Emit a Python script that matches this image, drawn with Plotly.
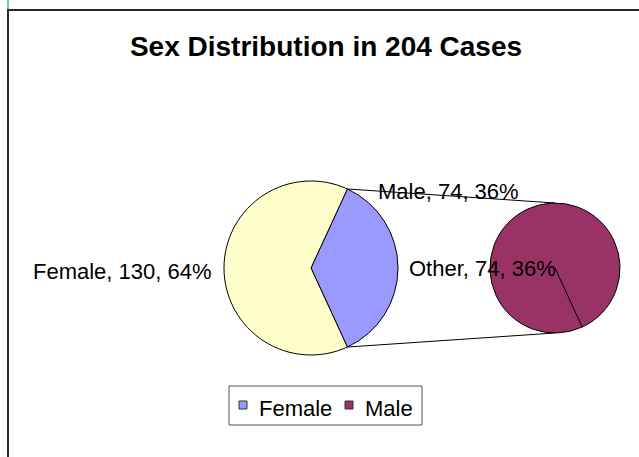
import math
import plotly.graph_objects as go

W, H = 639, 457

title_text = "Sex Distribution in 204 Cases"

# main pie: the "Other" share is split out into the secondary pie
main_labels = ["Other", "Female"]
main_values = [74, 130]
main_colors = ["#9999FF", "#FFFFCC"]

# secondary pie: breakdown of "Other"
sub_labels = ["Male"]
sub_values = [74]
sub_colors = ["#993366"]

# legend entries (series point colours)
legend_labels = ["Female", "Male"]
legend_colors = ["#9999FF", "#993366"]

total = sum(main_values)

# geometry in pixels (origin at top-left)
c1x, c1y, r1 = 311, 268, 87
c2x, c2y, r2 = 555, 268, 65


def px(x):
    return x / W


def py(y):
    return 1 - y / H


def domain(cx, cy, r):
    return dict(x=[px(cx - r), px(cx + r)], y=[py(cy + r), py(cy - r)])


# split-off slice is centred on the right side (3 o'clock)
other_span = 360 * main_values[0] / total
rot1 = 90 - other_span / 2
rot2 = rot1 + other_span

fig = go.Figure()
fig.add_trace(go.Pie(
    labels=main_labels, values=main_values, sort=False, direction="clockwise",
    rotation=rot1, domain=domain(c1x, c1y, r1), textinfo="none", hoverinfo="label+value+percent",
    marker=dict(colors=main_colors, line=dict(color="#000000", width=1)), showlegend=False,
))
fig.add_trace(go.Pie(
    labels=sub_labels, values=sub_values, sort=False, direction="clockwise",
    rotation=rot2, domain=domain(c2x, c2y, r2), textinfo="none", hoverinfo="label+value+percent",
    marker=dict(colors=sub_colors, line=dict(color="#000000", width=1)), showlegend=False,
))


def edge_point(cx, cy, r, ang):
    a = math.radians(ang)
    return cx + r * math.sin(a), cy - r * math.cos(a)


def line(x0, y0, x1, y1, color="#000000", width=1):
    return dict(type="line", xref="paper", yref="paper",
                x0=px(x0), y0=py(y0), x1=px(x1), y1=py(y1),
                line=dict(color=color, width=width))


def rect(x0, y0, x1, y1, fill, color, width=1):
    return dict(type="rect", xref="paper", yref="paper",
                x0=px(x0), y0=py(y1), x1=px(x1), y1=py(y0),
                fillcolor=fill, line=dict(color=color, width=width))


shapes = []
# connector lines from the split slice to the secondary pie
tx, ty = edge_point(c1x, c1y, r1, rot1)
bx, by = edge_point(c1x, c1y, r1, rot1 + other_span)
shapes.append(line(tx, ty, c2x, c2y - r2))
shapes.append(line(bx, by, c2x, c2y + r2))
# slice boundary of the single-slice secondary pie
sx, sy = edge_point(c2x, c2y, r2, rot2)
shapes.append(line(c2x, c2y, sx, sy))
# chart frame
shapes.append(line(7, 10, W, 10, "#2a2a2a", 2))
shapes.append(line(8, 9, 8, H, "#2a2a2a", 2))
shapes.append(line(8, 0, 8, 9, "#6fd39a", 2))


def pct(v):
    return f"{round(100 * v / total)}%"


font = dict(family="Liberation Sans, Arial, sans-serif", size=22, color="#000000")
annotations = [
    dict(text=f"{main_labels[1]}, {main_values[1]}, {pct(main_values[1])}",
         x=px(214), y=py(271), xanchor="right", yanchor="middle"),
    dict(text=f"{sub_labels[0]}, {sub_values[0]}, {pct(sub_values[0])}",
         x=px(376), y=py(191), xanchor="left", yanchor="middle"),
    dict(text=f"{main_labels[0]}, {main_values[0]}, {pct(main_values[0])}",
         x=px(407), y=py(268), xanchor="left", yanchor="middle"),
]

# legend box with colour keys
shapes.append(rect(229, 386, 422, 425, "#ffffff", "#555555", 1))
key_x = [239, 345]
text_x = [257, 363]
for name, col, kx, tx_ in zip(legend_labels, legend_colors, key_x, text_x):
    shapes.append(rect(kx, 401, kx + 8, 409, col, "#333333", 1))
    annotations.append(dict(text=name, x=px(tx_), y=py(408), xanchor="left", yanchor="middle"))

for a in annotations:
    a.update(xref="paper", yref="paper", showarrow=False, font=font)

fig.update_layout(
    width=W, height=H,
    margin=dict(l=0, r=0, t=0, b=0),
    paper_bgcolor="#ffffff", plot_bgcolor="#ffffff",
    title=dict(text=f"<b>{title_text}</b>", x=px(326), xanchor="center",
               y=py(46), yanchor="middle",
               font=dict(family="Liberation Sans, Arial, sans-serif", size=28, color="#000000")),
    showlegend=False,
    shapes=shapes, annotations=annotations,
)

fig.write_html("out.html")
